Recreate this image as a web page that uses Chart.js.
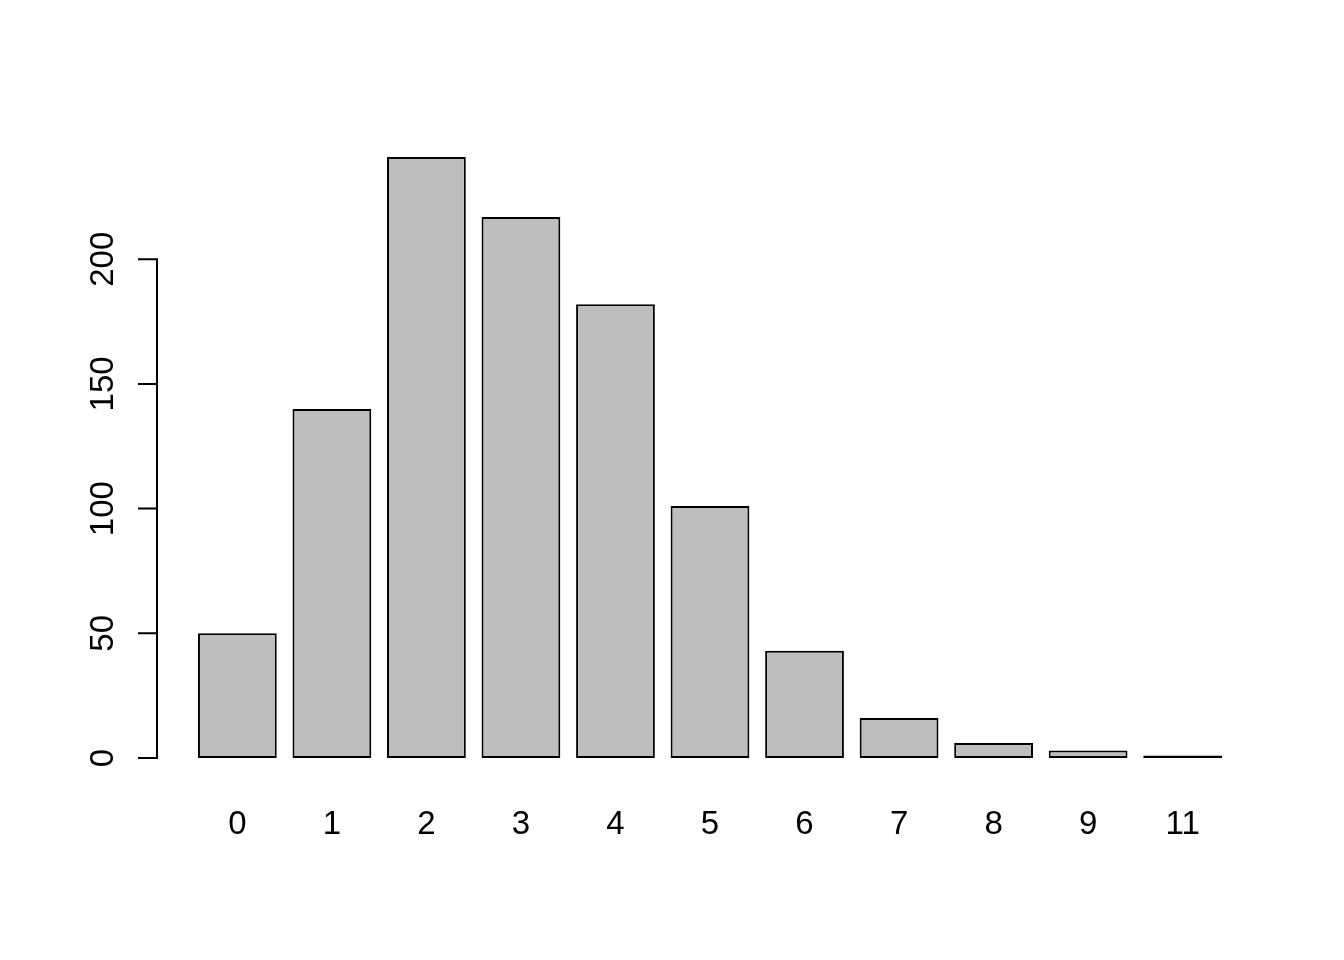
<!DOCTYPE html>
<html>
<head>
<meta charset="utf-8">
<script src="https://cdn.jsdelivr.net/npm/chart.js@4/dist/chart.umd.min.js"></script>
<style>
  html, body { margin: 0; padding: 0; background: #ffffff; }
  canvas { display: block; }
</style>
</head>
<body>
<canvas id="c" width="1344" height="960"></canvas>
<script>
const categories = ["0", "1", "2", "3", "4", "5", "6", "7", "8", "9", "11"];
const counts = [50, 140, 241, 217, 182, 101, 43, 16, 6, 3, 1];
const yTickValues = [0, 50, 100, 150, 200];

// R barplot geometry: bar width 1, space 0.2
const SPACE = 0.2;
const centers = categories.map((_, i) => SPACE + 0.5 + i * (1 + SPACE));
const xLo = SPACE, xHi = categories.length * (1 + SPACE);
const xPad = 0.04 * (xHi - xLo);
const yMax = Math.max(...counts);
const yPad = 0.04 * yMax;

const FONT = "Liberation Sans, Arial, sans-serif";

const yAxisPlugin = {
  id: 'rYAxis',
  afterDraw(chart) {
    const ctx = chart.ctx;
    const ys = chart.scales.y;
    const xAxis = chart.chartArea.left;
    ctx.save();
    ctx.strokeStyle = '#000';
    ctx.lineWidth = 2;
    ctx.lineCap = 'butt';
    ctx.beginPath();
    const p0 = ys.getPixelForValue(yTickValues[0]);
    const p1 = ys.getPixelForValue(yTickValues[yTickValues.length - 1]);
    ctx.moveTo(xAxis, p0 + 1);
    ctx.lineTo(xAxis, p1 - 1);
    yTickValues.forEach(v => {
      const p = ys.getPixelForValue(v);
      ctx.moveTo(xAxis + 1, p);
      ctx.lineTo(xAxis - 19, p);
    });
    ctx.stroke();
    ctx.fillStyle = '#000';
    ctx.font = '33px ' + FONT;
    ctx.textAlign = 'center';
    ctx.textBaseline = 'alphabetic';
    yTickValues.forEach(v => {
      const p = ys.getPixelForValue(v);
      ctx.save();
      ctx.translate(xAxis - 44.5, p);
      ctx.rotate(-Math.PI / 2);
      ctx.fillText(String(v), 0, 0);
      ctx.restore();
    });
    ctx.restore();
  }
};

new Chart(document.getElementById('c'), {
  type: 'bar',
  data: {
    datasets: [{
      data: counts.map((v, i) => ({ x: centers[i], y: v })),
      backgroundColor: '#bebebe',
      borderColor: '#000000',
      borderWidth: 2,
      borderSkipped: false,
      categoryPercentage: 1,
      barPercentage: 1 / (1 + SPACE)
    }]
  },
  options: {
    responsive: false,
    animation: false,
    devicePixelRatio: 1,
    layout: { padding: { top: 133, right: 81, left: 0, bottom: 0 } },
    plugins: { legend: { display: false }, tooltip: { enabled: false } },
    scales: {
      x: {
        type: 'linear',
        position: 'bottom',
        offset: false,
        min: xLo - xPad,
        max: xHi + xPad,
        grid: { display: false, drawTicks: false, offset: false },
        border: { display: false },
        afterBuildTicks(scale) {
          scale.ticks = centers.map(c => ({ value: c }));
        },
        afterFit(scale) { scale.height = 178; },
        ticks: {
          autoSkip: false,
          maxRotation: 0,
          minRotation: 0,
          padding: 23,
          color: '#000',
          font: { family: FONT, size: 33 },
          callback(value) {
            const i = centers.findIndex(c => Math.abs(c - value) < 1e-6);
            return i >= 0 ? categories[i] : '';
          }
        }
      },
      y: {
        type: 'linear',
        min: -yPad,
        max: yMax + yPad,
        grid: { display: false, drawTicks: false },
        border: { display: false },
        afterBuildTicks(scale) {
          scale.ticks = yTickValues.map(v => ({ value: v }));
        },
        afterFit(scale) { scale.width = 157; },
        ticks: { display: false }
      }
    }
  },
  plugins: [yAxisPlugin]
});
</script>
</body>
</html>
